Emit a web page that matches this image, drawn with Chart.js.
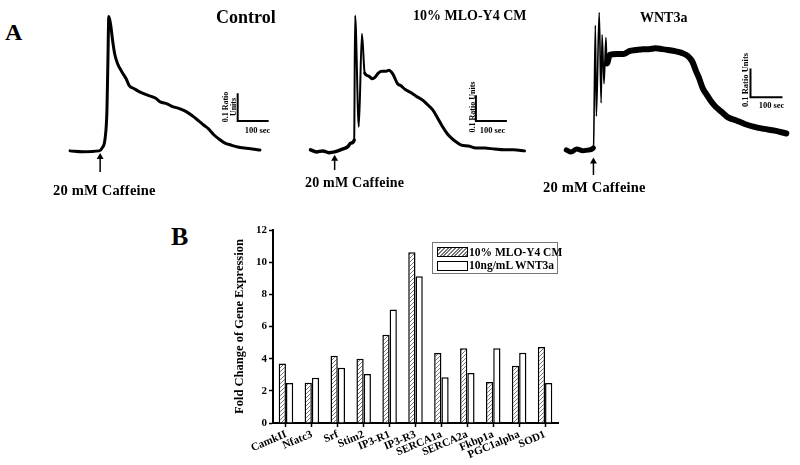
<!DOCTYPE html>
<html><head><meta charset="utf-8">
<script src="https://cdn.jsdelivr.net/npm/chart.js@4.4.1/dist/chart.umd.min.js"></script>
<style>
html,body{margin:0;padding:0;background:#fff;}
body{width:800px;height:465px;position:relative;overflow:hidden;font-family:"Liberation Serif","Times New Roman",serif;font-weight:bold;color:#000;}
canvas{position:absolute;}
.t{position:absolute;line-height:1;white-space:nowrap;}
.rot{position:absolute;line-height:1;white-space:nowrap;text-align:center;transform:translate(-50%,-50%) rotate(-90deg);}
.ctr{position:absolute;line-height:1;white-space:nowrap;transform:translateX(-50%);}
#legend{position:absolute;left:432px;top:242px;width:126px;height:32px;border:1px solid #777;box-sizing:border-box;background:#fff;}
.sw{position:absolute;width:31px;height:10px;border:1.5px solid #000;box-sizing:border-box;}
.hatch{background:repeating-linear-gradient(135deg,#fff 0px,#fff 1.3px,#777 1.3px,#777 2.6px);}
</style></head><body>
<canvas id="cA1" width="250" height="200" style="left:40px;top:0px"></canvas>
<canvas id="cA2" width="250" height="200" style="left:290px;top:0px"></canvas>
<canvas id="cA3" width="260" height="200" style="left:540px;top:0px"></canvas>
<canvas id="cB" width="342" height="245" style="left:228px;top:220px"></canvas>

<div class="t" style="left:5px;top:20px;font-size:24px">A</div>
<div class="t" style="left:216px;top:8px;font-size:18px">Control</div>
<div class="t" style="left:413px;top:9px;font-size:14px">10% MLO-Y4 CM</div>
<div class="t" style="left:640px;top:11px;font-size:14px">WNT3a</div>
<div class="t" style="left:53px;top:183px;font-size:14.5px;letter-spacing:0.2px">20 mM Caffeine</div>
<div class="t" style="left:305px;top:176px;font-size:14px;letter-spacing:0.2px">20 mM Caffeine</div>
<div class="t" style="left:543px;top:180px;font-size:14.5px;letter-spacing:0.2px">20 mM Caffeine</div>

<div class="rot" style="left:229.5px;top:107px;font-size:8px">0.1 Ratio<br>Units</div>
<div class="rot" style="left:473px;top:107px;font-size:8px">0.1 Ratio Units</div>
<div class="rot" style="left:745px;top:80px;font-size:8.5px">0.1 Ratio Units</div>
<div class="ctr" style="left:257.5px;top:126px;font-size:8.5px">100 sec</div>
<div class="ctr" style="left:492.5px;top:126px;font-size:8.5px">100 sec</div>
<div class="ctr" style="left:771.5px;top:101px;font-size:8.5px">100 sec</div>

<div class="t" style="left:171px;top:224px;font-size:26px">B</div>
<div id="legend">
  <div class="sw hatch" style="left:4px;top:4px"></div>
  <div class="t" style="left:36px;top:4px;font-size:11.5px">10% MLO-Y4 CM</div>
  <div class="sw" style="left:4px;top:18px;background:#fff"></div>
  <div class="t" style="left:36px;top:17px;font-size:11.5px">10ng/mL WNT3a</div>
</div>

<script>
// ---------- Panel A data (time in sec relative to caffeine, ratio units) ----------
const controlTime  = [-97,-56,-3,6,16,22,25,28,34,41,47,56,69,84,94,109,131,153,178,194,216,234,256,278,300,319,334,350,366,381,403,422,444,466,491,516];
const controlRatio = [0.800,0.797,0.800,0.810,0.845,0.948,1.120,1.283,1.252,1.190,1.148,1.114,1.086,1.059,1.034,1.024,1.010,1.000,0.990,0.976,0.969,0.959,0.952,0.941,0.924,0.907,0.893,0.879,0.859,0.845,0.828,0.821,0.814,0.810,0.807,0.803];

const mloTime  = [-78,-59,-38,-19,0,25,41,53,63,66,78,88,97,109,122,131,141,153,166,175,188,203,213,228,244,263,284,300,316,331,347,363,378,394,409,431,456,484,516,547,578,613];
const mloRatio = [0.804,0.796,0.800,0.793,0.796,0.807,0.815,0.830,0.841,1.322,0.893,1.252,1.100,1.089,1.078,1.085,1.100,1.107,1.107,1.111,1.096,1.059,1.052,1.037,1.026,1.011,0.996,0.978,0.959,0.930,0.896,0.867,0.848,0.833,0.822,0.819,0.811,0.811,0.807,0.804,0.804,0.800];

const wntTime  = [-88,-73,-55,-36,-18,-3,3,6,15,21,24,30,36,39,48,70,91,109,130,152,170,191,212,230,252,273,291,306,318,327,339,348,364,379,397,418,442,470,500,530,564,600];
const wntRatio = [0.800,0.793,0.803,0.797,0.800,0.807,1.233,0.917,1.277,0.963,1.200,1.030,1.190,1.100,1.130,1.133,1.133,1.143,1.147,1.150,1.150,1.153,1.150,1.147,1.143,1.137,1.127,1.107,1.073,1.050,1.013,0.997,0.970,0.950,0.933,0.913,0.903,0.890,0.880,0.873,0.867,0.857];

// scale bars: origin [time, ratio]; each bar = 100 sec x 0.1 ratio units
const scaleBarSec = 100, scaleBarRatio = 0.1;
const controlScaleOrigin = [444, 0.907];
const mloScaleOrigin     = [456, 0.915];
const wntScaleOrigin     = [488, 0.983];
// caffeine arrows: [time, bottom ratio, top ratio]
const controlArrow = [0, 0.724, 0.778];
const mloArrow     = [0, 0.726, 0.770];
const wntArrow     = [-3, 0.713, 0.760];

// ---------- Panel B data ----------
const genes = ['CamkII','Nfatc3','Srf','Stim2','IP3-R1','IP3-R3','SERCA1a','SERCA2a','Fkbp1a','PGC1alpha','SOD1'];
const mloFold = [3.70,2.50,4.18,4.00,5.48,10.61,4.35,4.65,2.55,3.56,4.72];
const wntFold = [2.49,2.82,3.43,3.04,7.06,9.13,2.85,3.11,4.65,4.37,2.49];
const foldTicks = [0,2,4,6,8,10,12];

const FONT = '"Liberation Serif","Times New Roman",serif';

function pts(t, r){ return t.map((v,i)=>({x:v, y:r[i]})); }

function traceChart(id, t, r, xr, yr, lw, sb, arrow, segFn){
  const trace = {
    data: pts(t, r), borderColor:'#000', borderWidth: lw, pointRadius:0,
    cubicInterpolationMode:'monotone', borderJoinStyle:'round', borderCapStyle:'round', clip:false
  };
  if (segFn) trace.segment = { borderWidth: segFn };
  const bar = {
    data:[{x:sb[0], y:sb[1]+scaleBarRatio},{x:sb[0], y:sb[1]},{x:sb[0]+scaleBarSec, y:sb[1]}],
    borderColor:'#000', borderWidth:2, pointRadius:0, tension:0, borderCapStyle:'butt', borderJoinStyle:'miter', clip:false
  };
  const arr = {
    data:[{x:arrow[0], y:arrow[1]},{x:arrow[0], y:arrow[2]}],
    borderColor:'#000', borderWidth:1.5, pointRadius:[0,4], pointStyle:'triangle',
    pointBackgroundColor:'#000', pointBorderWidth:0, tension:0, clip:false
  };
  return new Chart(document.getElementById(id), {
    type:'line',
    data:{ datasets:[trace, bar, arr] },
    options:{
      animation:false, responsive:false, events:[], devicePixelRatio:1,
      layout:{padding:0},
      plugins:{legend:{display:false}, tooltip:{enabled:false}},
      scales:{
        x:{type:'linear', display:false, min:xr[0], max:xr[1]},
        y:{type:'linear', display:false, min:yr[0], max:yr[1]}
      }
    }
  });
}

traceChart('cA1', controlTime, controlRatio, [-181.25, 600], [0.6379, 1.3276], 3, controlScaleOrigin, controlArrow);
traceChart('cA2', mloTime, mloRatio, [-131.25, 650], [0.6259, 1.3667], 3,
  mloScaleOrigin, mloArrow,
  ctx => (ctx.p0.parsed.x >= 60 && ctx.p0.parsed.x < 95) ? 2 : (ctx.p0.parsed.x < 60 ? 3.5 : 3));
traceChart('cA3', wntTime, wntRatio, [-157.6, 630.3], [0.64, 1.3067], 6,
  wntScaleOrigin, wntArrow,
  ctx => (ctx.p0.parsed.x >= -4 && ctx.p0.parsed.x < 39) ? 1.6 : (ctx.p0.parsed.x < -4 ? 5 : 6));

// hatch pattern for bars
function hatch(){
  const c = document.createElement('canvas'); c.width = 4; c.height = 4;
  const g = c.getContext('2d');
  g.fillStyle = '#fff'; g.fillRect(0,0,4,4);
  g.strokeStyle = '#777'; g.lineWidth = 1;
  g.beginPath();
  g.moveTo(0,4); g.lineTo(4,0);
  g.moveTo(-1,1); g.lineTo(1,-1);
  g.moveTo(3,5); g.lineTo(5,3);
  g.stroke();
  return g.createPattern(c, 'repeat');
}
const cB = document.getElementById('cB');
const pat = hatch();
const tickFont = {family:FONT, size:11, weight:'bold'};

new Chart(cB, {
  type:'bar',
  data:{
    labels: genes,
    datasets:[
      {label:'10% MLO-Y4 CM', data:mloFold, backgroundColor:pat, borderColor:'#000', borderWidth:1.5, categoryPercentage:0.56, barPercentage:1},
      {label:'10ng/mL WNT3a', data:wntFold, backgroundColor:'#fff', borderColor:'#000', borderWidth:1.5, categoryPercentage:0.56, barPercentage:1}
    ]
  },
  options:{
    animation:false, responsive:false, events:[], devicePixelRatio:1,
    layout:{padding:{top:10, right:12, left:0, bottom:0}},
    plugins:{legend:{display:false}, tooltip:{enabled:false}},
    scales:{
      x:{
        offset:true,
        grid:{display:true, drawOnChartArea:false, drawTicks:true, tickLength:4, tickWidth:1.5, tickColor:'#000', offset:false},
        border:{display:true, color:'#000', width:2},
        ticks:{autoSkip:false, minRotation:23, maxRotation:23, color:'#000', font:tickFont, padding:1},
        afterFit(s){ s.height = 42; }
      },
      y:{
        min:0, max:12,
        afterBuildTicks(s){ s.ticks = foldTicks.map(v=>({value:v})); },
        grid:{display:true, drawOnChartArea:false, drawTicks:true, tickLength:4, tickWidth:1.5, tickColor:'#000'},
        border:{display:true, color:'#000', width:2},
        ticks:{color:'#000', font:tickFont, padding:2},
        title:{display:true, text:'Fold Change of Gene Expression', color:'#000', font:{family:FONT, size:12.5, weight:'bold'}, padding:{top:4, bottom:0}},
        afterFit(s){ s.width = 45; }
      }
    }
  }
});
</script>
</body></html>
